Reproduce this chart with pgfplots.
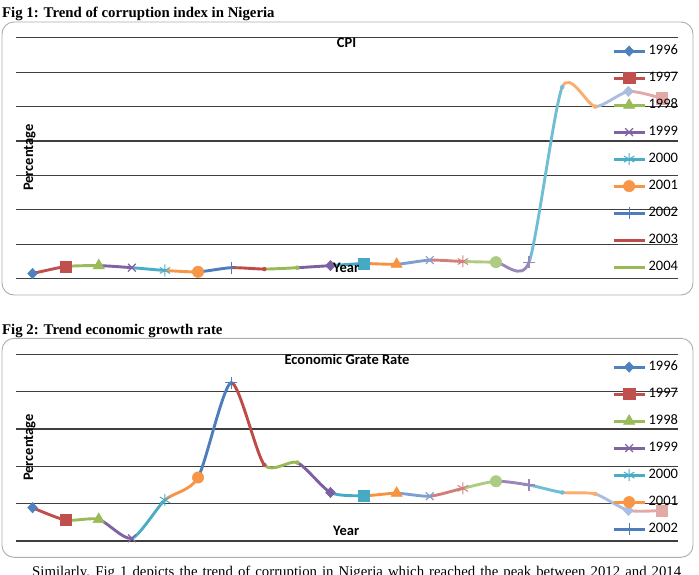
\documentclass[border=0pt]{standalone}
\usepackage{fontspec}
\setmainfont{Liberation Serif}
\newfontfamily\carl{Carlito}
\usepackage{pgfplots}
\pgfplotsset{compat=1.18}
\usepackage{pgfplotstable}

\definecolor{c0}{HTML}{4F81BD}
\definecolor{c1}{HTML}{C0504D}
\definecolor{c2}{HTML}{9BBB59}
\definecolor{c3}{HTML}{8064A2}
\definecolor{c4}{HTML}{4BACC6}
\definecolor{c5}{HTML}{F79646}
\definecolor{c6}{HTML}{4E7DBC}
\definecolor{c7}{HTML}{BE4B48}
\definecolor{c8}{HTML}{98B954}
\definecolor{c9}{HTML}{7D60A0}
\definecolor{c10}{HTML}{46AAC5}
\definecolor{c11}{HTML}{F69240}
\definecolor{c12}{HTML}{7F9FCF}
\definecolor{c13}{HTML}{D27F7C}
\definecolor{c14}{HTML}{ADCB82}
\definecolor{c15}{HTML}{9A86B9}
\definecolor{c16}{HTML}{6FBED4}
\definecolor{c17}{HTML}{F9AE71}
\definecolor{c18}{HTML}{A9BEE0}
\definecolor{c19}{HTML}{E2A9A7}
\definecolor{gridc}{HTML}{3F3F3F}

\newcommand\chf{\carl\fontsize{14.5}{17}\selectfont}

% CPI (corruption perception index), years 1996-2015 at x = 0..19
\pgfplotstableread{
x y
0 0.75
1 1.76
2 1.9
3 1.6
4 1.2
5 1.0
6 1.6
7 1.4
8 1.6
9 1.9
10 2.2
11 2.1
12 2.7
13 2.5
14 2.4
15 2.4
16 27.8
17 25
18 27.2
19 26.2
}\cpi

% Economic growth rate, years 1996-2015
\pgfplotstableread{
x y
0 4.46
1 2.8
2 2.9
3 0.36
4 5.5
5 8.5
6 21.2
7 10.2
8 10.5
9 6.5
10 6.06
11 6.4
12 6.0
13 7.05
14 8.0
15 7.5
16 6.5
17 6.3
18 4.1
19 4.1
}\gdp

\pgfplotsset{
  mk diamond/.style={mark=diamond*, mark size=5.2pt, mark options={solid, xscale=1.25, line width=0.5pt}},
  mk square/.style={mark=square*, mark size=5.6pt, mark options={solid, line width=0.5pt}},
  mk triangle/.style={mark=triangle*, mark size=6.5pt, mark options={solid, line width=0.5pt}},
  mk x/.style={mark=x, mark size=5.5pt, mark options={solid, line width=1.2pt}},
  mk ast/.style={mark=asterisk, mark size=6pt, mark options={solid, line width=1pt}},
  mk circle/.style={mark=*, mark size=5.7pt, mark options={solid, line width=0.5pt}},
  mk plus/.style={mark=+, mark size=6pt, mark options={solid, line width=1.2pt}},
  mk none/.style={mark=none},
  mk0/.style={mk diamond}, mk1/.style={mk square}, mk2/.style={mk triangle},
  mk3/.style={mk x}, mk4/.style={mk ast}, mk5/.style={mk circle},
  mk6/.style={mk plus}, mk7/.style={mk none}, mk8/.style={mk none},
  mk9/.style={mk diamond}, mk10/.style={mk square}, mk11/.style={mk triangle},
  mk12/.style={mk x}, mk13/.style={mk ast}, mk14/.style={mk circle},
  mk15/.style={mk plus}, mk16/.style={mk none}, mk17/.style={mk none},
  mk18/.style={mk diamond}, mk19/.style={mk square},
  excelaxis/.style={
    scale only axis, width=662pt,
    xmin=-0.5, xmax=19.5, ymin=0,
    xtick=\empty, yticklabels={}, major tick length=0pt,
    axis line style={draw=none},
    ymajorgrids, grid style={line width=1.2pt, gridc},
    clip=true,
    legend cell align=left,
    legend image code/.code={\draw[mark repeat=2,mark phase=2,##1] plot coordinates {(0pt,0pt) (15.5pt,0pt) (31pt,0pt)};},
    legend style={at={(rel axis cs:1,1)}, anchor=north east, xshift=2.5pt,
      draw=none, fill=none, inner sep=0pt, outer sep=0pt, row sep=14pt, column sep=0pt,
      font=\chf, nodes={inner xsep=2.5pt, inner ysep=0pt, text height=10pt, text depth=3pt}},
  },
  seg/.style={line width=2.9pt, smooth, tension=0.42, mark=none},
  leg/.style={line width=2.9pt},
}

\begin{document}
\begin{tikzpicture}
\useasboundingbox (0,0) rectangle (699pt,-574pt);

% ---------- Figure 1 ----------
\node[anchor=base west, inner sep=0pt, font=\bfseries\fontsize{14.8}{16}\selectfont] at (2pt,-17pt) {Fig 1: Trend of corruption index in Nigeria};
\draw[rounded corners=12pt, draw=black!32, line width=0.9pt] (2pt,-22pt) rectangle (693pt,-295pt);

\begin{axis}[excelaxis, at={(16pt,-278.7pt)}, anchor=south west, height=241pt,
  ymax=35, ytick={0,5,...,35}, legend style={yshift=-6.9pt}]
  \addlegendimage{c0, leg, mk0}\addlegendentry{1996}
  \addlegendimage{c1, leg, mk1}\addlegendentry{1997}
  \addlegendimage{c2, leg, mk2}\addlegendentry{1998}
  \addlegendimage{c3, leg, mk3}\addlegendentry{1999}
  \addlegendimage{c4, leg, mk4}\addlegendentry{2000}
  \addlegendimage{c5, leg, mk5}\addlegendentry{2001}
  \addlegendimage{c6, leg, mk6}\addlegendentry{2002}
  \addlegendimage{c7, leg, mk7}\addlegendentry{2003}
  \addlegendimage{c8, leg, mk8}\addlegendentry{2004}
  \addplot[only marks, c0, mk0, restrict x to domain=0:0] table[x=x,y=y] {\cpi};
  \pgfplotsinvokeforeach{1,...,19}{
    \begin{scope}
      \clip (axis cs:{#1-1},-10) rectangle (axis cs:{#1},60);
      \addplot[c#1, seg] table[x=x,y=y] {\cpi};
    \end{scope}
    \addplot[only marks, c#1, mk#1, restrict x to domain=#1:#1] table[x=x,y=y] {\cpi};
  }
\end{axis}

\node[anchor=base, inner sep=0pt, font=\chf\bfseries] at (346.5pt,-47.3pt) {CPI};
\node[anchor=base west, inner sep=0pt, font=\chf\bfseries] at (333pt,-272.5pt) {Year};
\node[anchor=base, inner sep=0pt, rotate=90, font=\chf\bfseries] at (33pt,-157.5pt) {Percentage};

% ---------- Figure 2 ----------
\node[anchor=base west, inner sep=0pt, font=\bfseries\fontsize{14.8}{16}\selectfont] at (2pt,-334.5pt) {Fig 2: Trend economic growth rate};
\draw[rounded corners=12pt, draw=black!32, line width=0.9pt] (2pt,-338.3pt) rectangle (693pt,-557.3pt);

\begin{axis}[excelaxis, at={(16pt,-541pt)}, anchor=south west, height=186.7pt,
  ymax=25, ytick={0,5,...,25}, legend style={yshift=-6.3pt}]
  \addlegendimage{c0, leg, mk0}\addlegendentry{1996}
  \addlegendimage{c1, leg, mk1}\addlegendentry{1997}
  \addlegendimage{c2, leg, mk2}\addlegendentry{1998}
  \addlegendimage{c3, leg, mk3}\addlegendentry{1999}
  \addlegendimage{c4, leg, mk4}\addlegendentry{2000}
  \addlegendimage{c5, leg, mk5}\addlegendentry{2001}
  \addlegendimage{c6, leg, mk6}\addlegendentry{2002}
  \addplot[only marks, c0, mk0, restrict x to domain=0:0] table[x=x,y=y] {\gdp};
  \pgfplotsinvokeforeach{1,...,19}{
    \begin{scope}
      \clip (axis cs:{#1-1},-10) rectangle (axis cs:{#1},60);
      \addplot[c#1, seg] table[x=x,y=y] {\gdp};
    \end{scope}
    \addplot[only marks, c#1, mk#1, restrict x to domain=#1:#1] table[x=x,y=y] {\gdp};
  }
\end{axis}

\node[anchor=base, inner sep=0pt, font=\chf\bfseries] at (347pt,-364.3pt) {Economic Grate Rate};
\node[anchor=base west, inner sep=0pt, font=\chf\bfseries] at (333pt,-535pt) {Year};
\node[anchor=base, inner sep=0pt, rotate=90, font=\chf\bfseries] at (33pt,-447.5pt) {Percentage};

% ---------- running text (cut by the page edge, as in the source page) ----------
\node[anchor=base west, inner sep=0pt, font=\fontsize{14.8}{16}\selectfont] at (32pt,-576pt) {\hbox to 649pt{Similarly, Fig 1 depicts the trend of corruption in Nigeria which reached the peak between 2012 and 2014}};
\end{tikzpicture}
\end{document}
